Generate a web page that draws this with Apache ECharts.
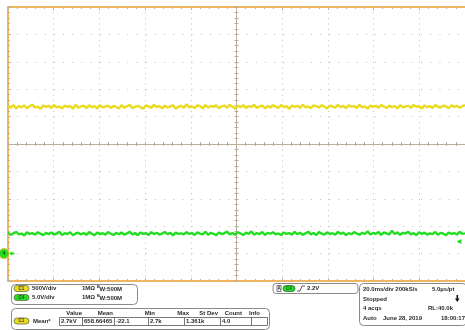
<!DOCTYPE html>
<html>
<head>
<meta charset="utf-8">
<script src="https://cdn.jsdelivr.net/npm/echarts@6/dist/echarts.min.js"></script>
<style>
  html, body { margin: 0; padding: 0; background: #ffffff; }
  #scope { width: 465px; height: 330px; }
</style>
</head>
<body>
<div id="scope"></div>
<script>
// Channel 1 samples, volts (500 V/div)
const c1Volts = [
  2695,2660,2712,2648,2690,2671,2705,2652,2688,2719,2664,2683,2641,2702,2676,2698,2657,2710,2669,2685,
  2650,2703,2678,2692,2644,2715,2661,2687,2699,2655,2706,2672,2690,2648,2711,2667,2683,2701,2658,2694,
  2676,2647,2708,2663,2689,2716,2654,2681,2697,2670,2642,2704,2686,2659,2713,2675,2691,2651,2700,2666,
  2688,2707,2645,2679,2696,2662,2718,2673,2684,2656,2703,2690,2649,2711,2668,2694,2677,2705,2653,2687,
  2699,2664,2712,2680,2646,2698,2671,2709,2658,2692,2675,2714,2660,2685,2701,2650,2693,2667,2706,2682,
  2657,2710,2674,2689,2643,2702,2679,2696,2661,2717,2670,2686,2652,2704,2691,2666,2708,2678,2648,2699,
  2684,2663,2713,2672,2695,2654,2707,2681,2690,2659,2716,2669,2687,2645,2703,2677,2698,2662,2711,2683,
  2656,2700,2674,2692,2650,2709,2668,2685,2697,2660,2714,2679,2688,2647,2705,2671,2694,2657,2712,2680,
  2665,2701,2686,2653,2708,2675,2696,2662,2690,2710
];

// Channel 4 samples, volts (5.0 V/div)
const c4Volts = [
  3.82,3.41,3.70,3.95,3.52,3.66,3.30,3.88,3.59,3.74,3.45,3.91,3.62,3.38,3.79,3.55,3.85,3.48,3.69,3.97,
  3.40,3.73,3.58,3.89,3.35,3.67,3.81,3.50,3.76,3.43,3.92,3.61,3.37,3.84,3.56,3.71,3.46,3.94,3.63,3.39,
  3.78,3.53,3.87,3.44,3.68,3.99,3.51,3.75,3.36,3.86,3.60,3.72,3.42,3.90,3.57,3.80,3.47,3.65,3.96,3.54,
  3.77,3.33,3.83,3.61,3.70,3.49,3.93,3.58,3.74,3.41,3.88,3.64,3.52,3.98,3.45,3.79,3.62,3.36,3.85,3.57,
  3.71,4.02,3.50,3.76,3.43,3.90,3.66,3.38,3.82,3.59,4.05,3.47,3.73,3.55,3.95,3.40,3.78,3.63,3.89,3.52,
  3.69,3.34,3.86,3.60,3.75,3.46,3.97,3.56,3.81,3.42,3.68,4.00,3.51,3.77,3.39,3.92,3.64,3.48,3.87,3.58,
  3.72,3.44,3.96,3.61,3.83,3.37,3.74,3.53,3.91,3.66,3.45,3.80,3.57,4.08,3.49,3.76,3.62,3.94,3.41,3.85,
  3.67,3.52,4.15,3.59,3.88,3.43,3.79,3.65,3.98,3.50,3.73,3.38,3.90,3.60,3.82,3.47,3.70,3.56,3.93,3.44,
  3.78,3.63,3.35,3.86,3.58,3.75,3.48,3.97,3.61,3.69
];

// Vertical settings
const c1VoltsPerDiv = 500;
const c4VoltsPerDiv = 5;
const groundDiv = -4;          // both channels' ground marker, divisions from centre
const triggerLevel = 2.2;      // volts on C4

// Readout panel texts
const channelRows = [
  { ch: 'C1', scale: '500V/div', input: '1MΩ' },
  { ch: 'C4', scale: '5.0V/div', input: '1MΩ' }
];
const measHeaders = ['Value', 'Mean', 'Min', 'Max', 'St Dev', 'Count', 'Info'];
const measValues = ['2.7kV', '658.66465', '-22.1', '2.7k', '1.361k', '4.0', ''];
const timebaseLines = [
  ['20.0ms/div 200kS/s', '5.0µs/pt'],
  ['Stopped', ''],
  ['4 acqs', 'RL:40.0k'],
  ['Auto', 'June 28, 2019', '18:00:17']
];

const sampleIdx = c1Volts.map((_, i) => i);

const ORANGE = '#f2b45c';
const TICK = '#b9b2a4';
const DOT = '#c4bdb0';
const CROSS = '#b9ae9c';
const YELLOW = '#e9dc1e';
const GREEN = '#22dd22';
const FONT = '"Liberation Sans", Arial, sans-serif';
const INK = '#2a2a2a';

function chRange(vpd) {
  return { min: (-5 - groundDiv) * vpd, max: (5 - groundDiv) * vpd };
}

function frameAxis(extra) {
  return Object.assign({
    type: 'value', min: -5, max: 5, interval: 1,
    axisLabel: { show: false },
    splitLine: { show: false },
    axisTick: { show: true, inside: true, length: 3, lineStyle: { color: TICK } },
    minorTick: { show: true, splitNumber: 5, length: 2, lineStyle: { color: TICK } }
  }, extra);
}

function crossAxis(position, inside) {
  return frameAxis({
    position: position,
    axisLine: { show: true, onZero: true, onZeroAxisIndex: 0, lineStyle: { color: CROSS, width: 1 } },
    axisTick: { show: true, inside: inside, length: 2, lineStyle: { color: CROSS } },
    minorTick: { show: true, splitNumber: 5, length: 2, lineStyle: { color: CROSS } }
  });
}

// ---------- readout graphics ----------
function txt(x, y, s, o) {
  o = o || {};
  return {
    type: 'text', x: x, y: y, silent: true,
    style: {
      text: s, fill: o.fill || INK,
      font: (o.weight || 'bold') + ' ' + (o.size || 6) + 'px ' + FONT,
      textAlign: o.align || 'left', textVerticalAlign: 'middle'
    }
  };
}
function box(x, y, w, h, r, o) {
  o = o || {};
  return {
    type: 'rect', silent: true,
    shape: { x: x, y: y, width: w, height: h, r: r },
    style: { fill: o.fill || 'none', stroke: o.stroke || '#8a8a8a', lineWidth: o.lw || 1 }
  };
}
function pill(x, y, label, color) {
  return [
    box(x, y - 3, 15, 6, 3, { fill: color, stroke: '#6f6f4a', lw: 0.8 }),
    txt(x + 7.5, y, label, { size: 4.5, align: 'center', fill: '#333' })
  ];
}

const graphics = [];
// channel settings panel
graphics.push(box(11.5, 284.5, 126, 20, 4));
channelRows.forEach((row, i) => {
  const y = 288.5 + i * 9;
  graphics.push(...pill(14, y, row.ch, i === 0 ? YELLOW : GREEN));
  graphics.push(txt(32, y, row.scale));
  graphics.push(txt(82, y, row.input));
  graphics.push(txt(97, y - 1.5, 'B', { size: 4 }));
  graphics.push(txt(99.5, y + 0.5, 'W:500M'));
});

// measurement panel
graphics.push(box(11.5, 308.5, 258, 21, 4));
const colRight = [82, 113, 155, 189, 218, 242, 260];
measHeaders.forEach((h, i) => graphics.push(txt(colRight[i], 313, h, { align: 'right' })));
const cellEdges = [59.5, 82.5, 114.5, 148.5, 184.5, 220.5, 251.5, 267.5];
graphics.push(...pill(14, 321, 'C1', YELLOW));
graphics.push(txt(33, 321, 'Mean*'));
graphics.push(box(cellEdges[0], 317.5, cellEdges[cellEdges.length - 1] - cellEdges[0], 8, 0, { stroke: '#555', lw: 0.8 }));
for (let i = 1; i < cellEdges.length - 1; i++) {
  graphics.push({ type: 'line', silent: true, shape: { x1: cellEdges[i], y1: 317.5, x2: cellEdges[i], y2: 325.5 }, style: { stroke: '#555', lineWidth: 0.8 } });
}
measValues.forEach((v, i) => graphics.push(txt(cellEdges[i] + 1.5, 321.5, v)));

// trigger panel
graphics.push(box(273, 283.5, 85, 10, 3));
graphics.push(box(277, 285.5, 4, 6, 0, { stroke: '#555', lw: 0.8 }));
graphics.push(txt(279, 288.5, 'A', { size: 4.5, align: 'center' }));
graphics.push(box(283, 285.5, 12, 6, 3, { fill: GREEN, stroke: '#3a6a3a', lw: 0.8 }));
graphics.push(txt(289, 288.5, 'C4', { size: 4.5, align: 'center', fill: '#1d5a1d' }));
graphics.push({ type: 'polyline', silent: true, shape: { points: [[297, 291], [300, 291], [302, 286], [305, 286]] }, style: { stroke: '#333', lineWidth: 0.8, fill: 'none' } });
graphics.push(txt(307, 288.5, triggerLevel.toFixed(1) + 'V'));

// timebase panel
graphics.push(box(359.5, 283.5, 107, 42, 4));
graphics.push(txt(363, 289, timebaseLines[0][0]));
graphics.push(txt(432, 289, timebaseLines[0][1]));
graphics.push(txt(363, 299, timebaseLines[1][0]));
// stop indicator arrow
graphics.push({ type: 'rect', silent: true, shape: { x: 456.5, y: 295, width: 1.6, height: 4 }, style: { fill: '#111' } });
graphics.push({ type: 'polygon', silent: true, shape: { points: [[455, 298.5], [459.6, 298.5], [457.3, 302]] }, style: { fill: '#111' } });
graphics.push(txt(363, 308.5, timebaseLines[2][0]));
graphics.push(txt(428, 308.5, timebaseLines[2][1]));
graphics.push(txt(363, 318, timebaseLines[3][0]));
graphics.push(txt(383, 318, timebaseLines[3][1]));
graphics.push(txt(441, 318, timebaseLines[3][2]));

const c1R = chRange(c1VoltsPerDiv);
const c4R = chRange(c4VoltsPerDiv);

const option = {
  animation: false,
  backgroundColor: '#ffffff',
  grid: { left: 8, top: 7, width: 459, height: 274, containLabel: false },
  xAxis: [
    frameAxis({
      position: 'bottom',
      axisLine: { show: true, onZero: false, lineStyle: { color: ORANGE, width: 2 } },
      splitLine: { show: true, lineStyle: { color: DOT, width: 1, type: [1, 4.48] } }
    }),
    frameAxis({
      position: 'top',
      axisLine: { show: true, onZero: false, lineStyle: { color: ORANGE, width: 2 } }
    }),
    crossAxis('bottom', true),
    crossAxis('bottom', false),
    { type: 'category', data: sampleIdx, boundaryGap: false, show: false }
  ],
  yAxis: [
    frameAxis({
      position: 'left',
      axisLine: { show: true, onZero: false, lineStyle: { color: ORANGE, width: 2 } },
      splitLine: { show: true, lineStyle: { color: DOT, width: 1, type: [1, 8.18] } }
    }),
    crossAxis('left', true),
    crossAxis('left', false),
    { type: 'value', min: c1R.min, max: c1R.max, show: false, splitLine: { show: false } },
    { type: 'value', min: c4R.min, max: c4R.max, show: false, splitLine: { show: false } }
  ],
  series: [
    {
      name: 'C1', type: 'line', xAxisIndex: 4, yAxisIndex: 3,
      data: c1Volts, symbol: 'none', silent: true, z: 4,
      lineStyle: { color: YELLOW, width: 2.4 }
    },
    {
      name: 'C4', type: 'line', xAxisIndex: 4, yAxisIndex: 4,
      data: c4Volts, symbol: 'none', silent: true, z: 5,
      lineStyle: { color: GREEN, width: 2.4 },
      markPoint: {
        silent: true,
        data: [
          {
            coord: [0, 0], symbol: 'circle', symbolSize: 10, symbolOffset: [-4, 0],
            itemStyle: { color: GREEN, borderColor: '#e8c020', borderWidth: 1 },
            label: { show: true, formatter: '4', fontSize: 6, fontWeight: 'bold', color: '#116611', offset: [0, 0] }
          },
          {
            coord: [0, 0], symbol: 'triangle', symbolSize: [4, 5], symbolRotate: -90, symbolOffset: [5, 0],
            itemStyle: { color: GREEN }, label: { show: false }
          },
          {
            coord: [c4Volts.length - 1, triggerLevel], symbol: 'triangle', symbolSize: [5, 5], symbolRotate: 90, symbolOffset: [-6, 0],
            itemStyle: { color: GREEN }, label: { show: false }
          }
        ]
      }
    }
  ],
  graphic: graphics
};

const chart = echarts.init(document.getElementById('scope'), null, { renderer: 'canvas' });
chart.setOption(option);
</script>
</body>
</html>
